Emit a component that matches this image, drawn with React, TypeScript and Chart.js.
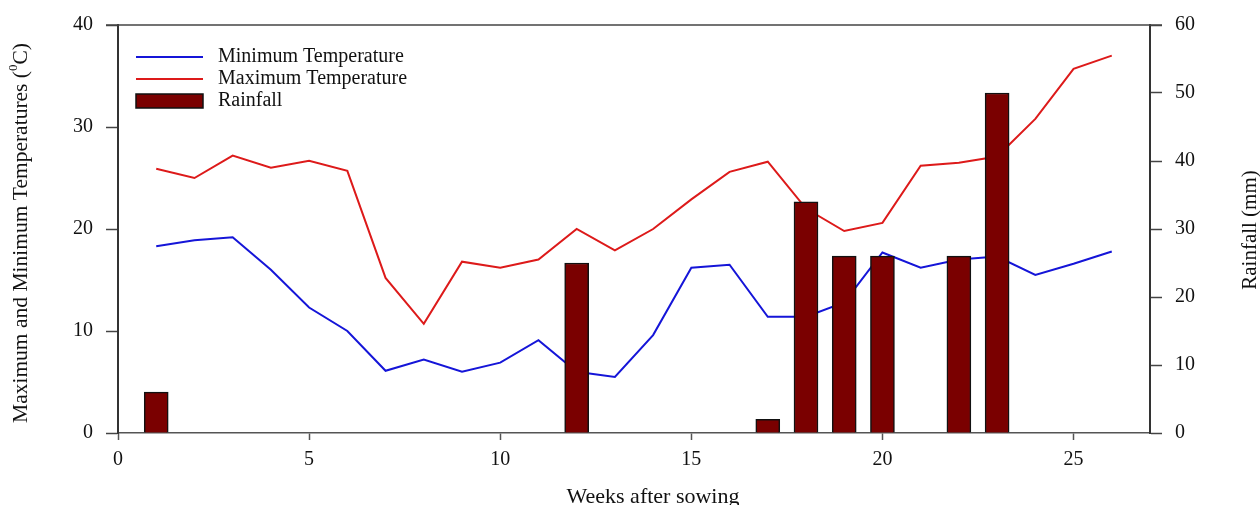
import React, { useEffect, useRef } from 'react';
import { Chart, registerables } from 'chart.js';

Chart.register(...registerables);

const weeks = [1, 2, 3, 4, 5, 6, 7, 8, 9, 10, 11, 12, 13, 14, 15, 16, 17, 18, 19, 20, 21, 22, 23, 24, 25, 26];
const minTemp = [18.3, 18.9, 19.2, 16.0, 12.3, 10.0, 6.1, 7.2, 6.0, 6.9, 9.1, 6.0, 5.5, 9.6, 16.2, 16.5, 11.4, 11.4, 12.8, 17.7, 16.2, 17.0, 17.3, 15.5, 16.6, 17.8];
const maxTemp = [25.9, 25.0, 27.2, 26.0, 26.7, 25.7, 15.2, 10.7, 16.8, 16.2, 17.0, 20.0, 17.9, 20.0, 22.9, 25.6, 26.6, 22.0, 19.8, 20.6, 26.2, 26.5, 27.1, 30.8, 35.7, 37.0];
const rainWeeks = [1, 12, 17, 18, 19, 20, 22, 23];
const rainfall = [6, 25, 2, 34, 26, 26, 26, 50];

const xTicks = [0, 5, 10, 15, 20, 25];

const FONT = "'Liberation Serif', 'Times New Roman', serif";

const overlayPlugin = {
  id: 'overlay',
  afterDraw(chart: any) {
    const ctx = chart.ctx as CanvasRenderingContext2D;
    const { left, right, top } = chart.chartArea;
    ctx.save();
    // top frame line
    ctx.strokeStyle = '#444';
    ctx.lineWidth = 1.5;
    ctx.beginPath();
    ctx.moveTo(left - 12, top);
    ctx.lineTo(right + 12, top);
    ctx.stroke();

    ctx.fillStyle = '#111';
    ctx.textBaseline = 'middle';

    // left title with superscript
    ctx.save();
    ctx.translate(21, 233);
    ctx.rotate(-Math.PI / 2);
    const p1 = 'Maximum and Minimum Temperatures (';
    const sup = '0';
    const p3 = 'C)';
    ctx.font = `21.5px ${FONT}`;
    const w1 = ctx.measureText(p1).width;
    const w3 = ctx.measureText(p3).width;
    ctx.font = `13px ${FONT}`;
    const ws = ctx.measureText(sup).width;
    const x0 = -(w1 + ws + w3) / 2;
    ctx.textAlign = 'left';
    ctx.font = `21.5px ${FONT}`;
    ctx.fillText(p1, x0, 0);
    ctx.font = `13px ${FONT}`;
    ctx.fillText(sup, x0 + w1, -7);
    ctx.font = `21.5px ${FONT}`;
    ctx.fillText(p3, x0 + w1 + ws, 0);
    ctx.restore();

    // right title
    ctx.save();
    ctx.translate(1250, 230);
    ctx.rotate(-Math.PI / 2);
    ctx.textAlign = 'center';
    ctx.font = `21px ${FONT}`;
    ctx.fillText('Rainfall (mm)', 0, 0);
    ctx.restore();

    // bottom title
    ctx.textAlign = 'center';
    ctx.font = `22px ${FONT}`;
    ctx.fillText('Weeks after sowing', 653, 497);

    // legend
    const ds = chart.data.datasets;
    const lx = 136;
    const lw = 67;
    const tx = 218;
    const rows = [57, 79, 101];
    ctx.textAlign = 'left';
    ctx.font = `20px ${FONT}`;
    ds.forEach((d: any, i: number) => {
      const y = rows[i];
      if (d.type === 'bar') {
        ctx.fillStyle = d.backgroundColor;
        ctx.fillRect(lx, y - 7, lw, 14);
        ctx.strokeStyle = '#111';
        ctx.lineWidth = 1.5;
        ctx.strokeRect(lx, y - 7, lw, 14);
      } else {
        ctx.strokeStyle = d.borderColor;
        ctx.lineWidth = 2;
        ctx.beginPath();
        ctx.moveTo(lx, y);
        ctx.lineTo(lx + lw, y);
        ctx.stroke();
      }
      ctx.fillStyle = '#111';
      ctx.fillText(d.label, tx, y);
    });
    ctx.restore();
  },
};

export default function App() {
  const ref = useRef<HTMLCanvasElement | null>(null);

  useEffect(() => {
    document.body.style.margin = '0';
    if (!ref.current) return;
    const chart = new Chart(ref.current, {
      type: 'bar',
      data: {
        datasets: [
          {
            type: 'line',
            label: 'Minimum Temperature',
            data: weeks.map((w, i) => ({ x: w, y: minTemp[i] })),
            borderColor: '#1515d8',
            borderWidth: 2,
            pointRadius: 0,
            tension: 0,
            yAxisID: 'y',
            order: 1,
          },
          {
            type: 'line',
            label: 'Maximum Temperature',
            data: weeks.map((w, i) => ({ x: w, y: maxTemp[i] })),
            borderColor: '#dd1a1a',
            borderWidth: 2,
            pointRadius: 0,
            tension: 0,
            yAxisID: 'y',
            order: 1,
          },
          {
            type: 'bar',
            label: 'Rainfall',
            data: rainWeeks.map((w, i) => ({ x: w, y: rainfall[i] })),
            backgroundColor: '#7a0000',
            borderColor: '#111',
            borderWidth: 1.5,
            barThickness: 24,
            yAxisID: 'y1',
            order: 0,
          },
        ] as any,
      },
      options: {
        animation: false,
        responsive: false,
        maintainAspectRatio: false,
        layout: { padding: { top: 22, left: 0, right: 0, bottom: 0 } },
        plugins: { legend: { display: false }, tooltip: { enabled: false } },
        scales: {
          x: {
            type: 'linear',
            min: 0,
            max: 27,
            offset: false,
            afterBuildTicks: (s: any) => {
              s.ticks = xTicks.map((v) => ({ value: v }));
            },
            afterFit: (s: any) => {
              s.height = 72;
            },
            grid: { offset: false, drawOnChartArea: false, tickLength: 7, color: '#555', tickWidth: 1.5 },
            border: { color: '#555', width: 1.5 },
            ticks: { color: '#111', font: { family: FONT, size: 20 }, padding: 8, maxRotation: 0 },
          },
          y: {
            type: 'linear',
            position: 'left',
            min: 0,
            max: 40,
            ticks: { stepSize: 10, color: '#111', font: { family: FONT, size: 20 }, padding: 13 },
            afterFit: (s: any) => {
              s.width = 118;
            },
            grid: { drawOnChartArea: false, tickLength: 12, color: '#444', tickWidth: 1.5 },
            border: { color: '#333', width: 2 },
          },
          y1: {
            type: 'linear',
            position: 'right',
            min: 0,
            max: 60,
            ticks: { stepSize: 10, color: '#111', font: { family: FONT, size: 20 }, padding: 13 },
            afterFit: (s: any) => {
              s.width = 110;
            },
            grid: { drawOnChartArea: false, tickLength: 12, color: '#444', tickWidth: 1.5 },
            border: { color: '#333', width: 2 },
          },
        },
      } as any,
      plugins: [overlayPlugin],
    });
    return () => chart.destroy();
  }, []);

  return (
    <div style={{ width: 1260, height: 505 }}>
      <canvas ref={ref} width={1260} height={505} />
    </div>
  );
}
